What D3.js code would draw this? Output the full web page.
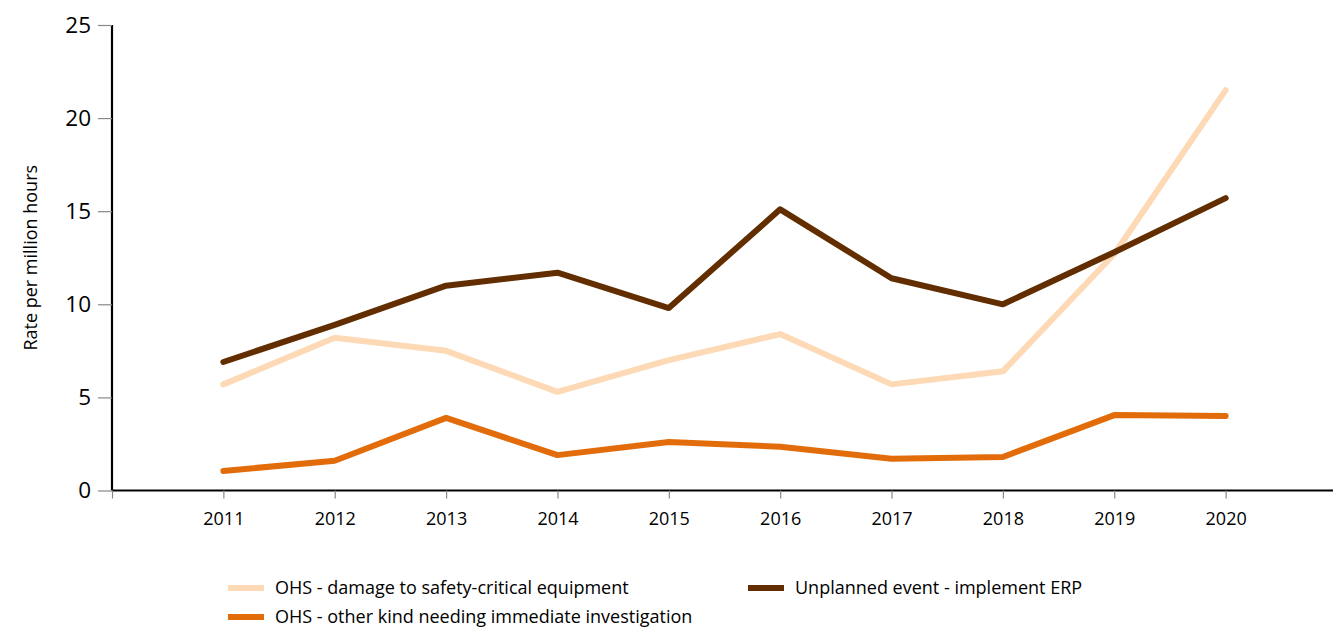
<!DOCTYPE html>
<html>
<head>
<meta charset="utf-8">
<script src="https://cdn.jsdelivr.net/npm/d3@7"></script>
<style>
  html, body { margin: 0; padding: 0; background: #fff; }
  svg { display: block; font-family: "Open Sans", sans-serif; }
</style>
</head>
<body>
<svg id="chart" width="1333" height="630"></svg>
<script>
const years = [2011, 2012, 2013, 2014, 2015, 2016, 2017, 2018, 2019, 2020];
const damageEquip = [5.7, 8.2, 7.5, 5.3, 7.0, 8.4, 5.7, 6.4, 12.7, 21.5];
const otherKind = [1.05, 1.6, 3.9, 1.9, 2.6, 2.35, 1.7, 1.8, 4.05, 4.0];
const unplannedERP = [6.9, 8.9, 11.0, 11.7, 9.8, 15.1, 11.4, 10.0, 12.8, 15.7];
const yTicks = [0, 5, 10, 15, 20, 25];
const seriesNames = [
  "OHS - damage to safety-critical equipment",
  "Unplanned event - implement ERP",
  "OHS - other kind needing immediate investigation"
];
const colors = ["#fdd9b6", "#622e00", "#e36c0a"];

const svg = d3.select("#chart");
const x = d3.scaleLinear().domain([2010, 2021]).range([112, 1337]);
const y = d3.scaleLinear().domain([0, 25]).range([490.5, 25]);

// Y axis
const yAxis = d3.axisLeft(y).tickValues(yTicks).tickSize(14).tickPadding(7).tickFormat(d3.format("d"));
const gy = svg.append("g").attr("transform", "translate(112,0)").call(yAxis);
gy.select(".domain").attr("stroke", "#000").attr("stroke-width", 2.2).attr("d", `M0,${y(25)}V${y(0)}`);
gy.selectAll(".tick line").attr("stroke", "#888").attr("stroke-width", 1.2);
gy.selectAll(".tick text").attr("font-size", 22.5).attr("fill", "#000").attr("font-family", "Open Sans, sans-serif");

// X axis
const xTickVals = d3.range(2010, 2022);
const xAxis = d3.axisBottom(x).tickValues(xTickVals).tickSize(8).tickPadding(14)
  .tickFormat(d => years.includes(d) ? String(d) : "");
const gx = svg.append("g").attr("transform", `translate(0,${y(0)})`).call(xAxis);
gx.select(".domain").attr("stroke", "#000").attr("stroke-width", 2.2).attr("d", `M${x(2010)},0H1333`);
gx.selectAll(".tick line").attr("stroke", "#888").attr("stroke-width", 1.2);
gx.selectAll(".tick text").attr("font-size", 18).attr("fill", "#000").attr("font-family", "Open Sans, sans-serif");

// Y label
svg.append("text")
  .attr("transform", `translate(37,${(y(0) + y(25)) / 2}) rotate(-90)`)
  .attr("text-anchor", "middle")
  .attr("font-size", 18)
  .attr("fill", "#000")
  .text("Rate per million hours");

// Lines
const line = d3.line().x((d, i) => x(years[i])).y(d => y(d));
const drawOrder = [
  { data: damageEquip, color: colors[0] },
  { data: otherKind, color: colors[2] },
  { data: unplannedERP, color: colors[1] }
];
svg.append("g").selectAll("path").data(drawOrder).join("path")
  .attr("d", d => line(d.data))
  .attr("fill", "none")
  .attr("stroke", d => d.color)
  .attr("stroke-width", 6)
  .attr("stroke-linecap", "round")
  .attr("stroke-linejoin", "round");

// Legend
const legendItems = [
  { name: seriesNames[0], color: colors[0], lx: 228, ly: 588 },
  { name: seriesNames[1], color: colors[1], lx: 748, ly: 588 },
  { name: seriesNames[2], color: colors[2], lx: 228, ly: 617 }
];
const lg = svg.append("g").selectAll("g").data(legendItems).join("g")
  .attr("transform", d => `translate(${d.lx},${d.ly})`);
lg.append("line").attr("x1", 0).attr("x2", 36).attr("y1", 0).attr("y2", 0)
  .attr("stroke", d => d.color).attr("stroke-width", 6);
lg.append("text").attr("x", 47).attr("y", 0).attr("dy", "0.35em")
  .attr("font-size", 18).attr("fill", "#000")
  .text(d => d.name);
</script>
</body>
</html>
